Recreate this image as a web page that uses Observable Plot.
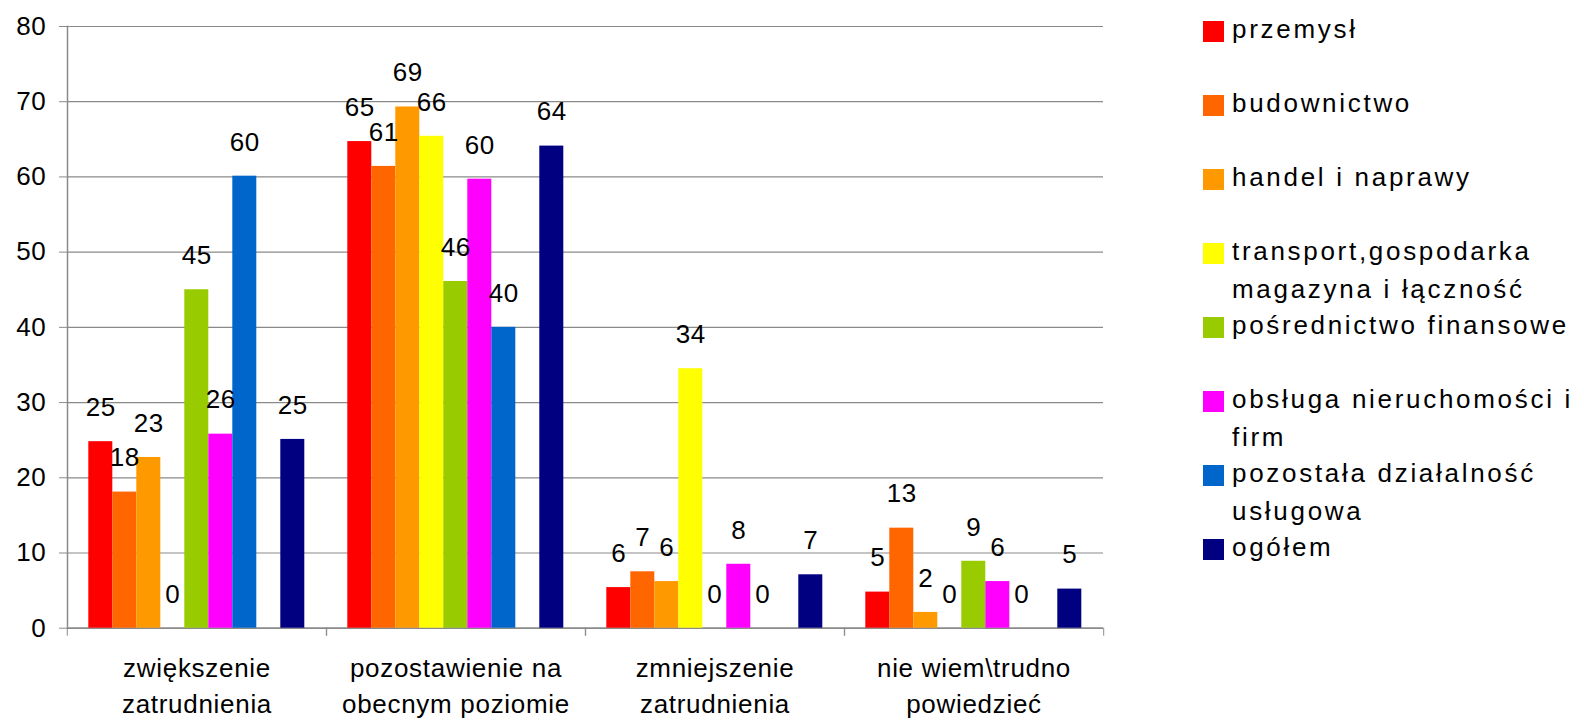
<!DOCTYPE html>
<html>
<head>
<meta charset="utf-8">
<script src="https://cdn.jsdelivr.net/npm/d3@7"></script>
<script src="https://cdn.jsdelivr.net/npm/@observablehq/plot@0.6"></script>
<style>
  html, body { margin: 0; padding: 0; background: #fff; }
  #wrap { position: relative; width: 1584px; height: 720px; overflow: hidden; font-family: "Liberation Sans", Arial, sans-serif; }
  #wrap svg { display: block; }
  #wrap svg text { letter-spacing: 0.7px; }
  .leg-item { position: absolute; left: 1203px; width: 381px; }
  .leg-sw { position: absolute; left: 0; width: 21px; height: 21px; }
  .leg-tx { position: absolute; left: 29px; width: 352px; font-size: 26px; line-height: 37.5px; letter-spacing: 2.7px; color: #000; white-space: normal; }
</style>
</head>
<body>
<div id="wrap"></div>
<script>
// ---- data ----
const categories = [
  "zwiększenie zatrudnienia",
  "pozostawienie na obecnym poziomie",
  "zmniejszenie zatrudnienia",
  "nie wiem\\trudno powiedzieć"
];
const categoryTickLabels = [
  "zwiększenie\nzatrudnienia",
  "pozostawienie na\nobecnym poziomie",
  "zmniejszenie\nzatrudnienia",
  "nie wiem\\trudno\npowiedzieć"
];
const series = [
  "przemysł",
  "budownictwo",
  "handel i naprawy",
  "transport,gospodarka magazyna i łączność",
  "pośrednictwo finansowe",
  "obsługa nieruchomości i firm",
  "pozostała działalność usługowa",
  "ogółem"
];
const colors = ["#FF0000", "#FF6600", "#FF9900", "#FFFF00", "#99CC00", "#FF00FF", "#0066CC", "#000080"];

// values per series (one per category)
const przemysl      = [24.8, 64.7, 5.4, 4.8];
const budownictwo   = [18.1, 61.4, 7.5, 13.3];
const handel        = [22.7, 69.3, 6.2, 2.1];
const transport     = [0, 65.4, 34.5, 0];
const posrednictwo  = [45.0, 46.1, 0, 8.9];
const obsluga       = [25.8, 59.7, 8.5, 6.2];
const pozostala     = [60.1, 40.0, 0, 0];
const ogolem        = [25.1, 64.1, 7.1, 5.2];

// printed value labels
const przemyslLbl     = [25, 65, 6, 5];
const budownictwoLbl  = [18, 61, 7, 13];
const handelLbl       = [23, 69, 6, 2];
const transportLbl    = [0, 66, 34, 0];
const posrednictwoLbl = [45, 46, 0, 9];
const obslugaLbl      = [26, 60, 8, 6];
const pozostalaLbl    = [60, 40, 0, 0];
const ogolemLbl       = [25, 64, 7, 5];

const yTicks = [0, 10, 20, 30, 40, 50, 60, 70, 80];

// ---- build table ----
const valuesBySeries = [przemysl, budownictwo, handel, transport, posrednictwo, obsluga, pozostala, ogolem];
const labelsBySeries = [przemyslLbl, budownictwoLbl, handelLbl, transportLbl, posrednictwoLbl, obslugaLbl, pozostalaLbl, ogolemLbl];
const data = series.flatMap((s, si) => categories.map((c, ci) => ({
  series: s, category: c, value: valuesBySeries[si][ci], label: String(labelsBySeries[si][ci])
})));
// slot order: an empty slot sits before "ogółem"
const slots = [...series.slice(0, 7), " ", series[7]];

// ---- layout ----
const W = 1584, H = 720;
const mL = 66.7, mR = 479.7, mT = 26, mB = 92.3;
const facetW = (W - mL - mR) / categories.length;
const grey = "#8a8a8a";
const font = "Liberation Sans, Arial, sans-serif";

const chart = Plot.plot({
  width: W, height: H,
  marginLeft: mL, marginRight: mR, marginTop: mT, marginBottom: mB,
  style: { fontFamily: font, fontSize: "26px", background: "white", color: "black", overflow: "visible" },
  fx: { domain: categories, padding: 0, label: null },
  x: { domain: slots, paddingInner: 0, paddingOuter: 0.7, axis: null },
  y: { domain: [0, 80], axis: null },
  color: { domain: series, range: colors },
  marks: [
    Plot.gridY(yTicks, { stroke: grey, strokeOpacity: 1, strokeWidth: 1.2 }),
    Plot.frame({ anchor: "left", facetAnchor: "left", stroke: grey, strokeWidth: 1.5 }),
    Plot.ruleY([0], { stroke: grey, strokeWidth: 1.5 }),
    Plot.barY(data, { fx: "category", x: "series", y: "value", fill: "series" }),
    Plot.text(data, { fx: "category", x: "series", y: "value", text: "label", dy: -34, fontSize: 26, fill: "black" }),
    Plot.axisY(yTicks, { tickSize: 8, tickPadding: 13, fontSize: 26, stroke: grey, label: null, tickFormat: d => String(d) }),
    Plot.axisFx({ anchor: "bottom", tickSize: 8, stroke: grey, tickFormat: () => "", label: null, dx: -facetW / 2 }),
    Plot.axisFx({ anchor: "bottom", tickSize: 8, stroke: grey, tickFormat: () => "", label: null, dx: facetW / 2 }),
    Plot.text(categories, { fx: d => d, text: d => categoryTickLabels[categories.indexOf(d)], frameAnchor: "bottom", lineAnchor: "top", dy: 23, lineHeight: 1.38, fontSize: 26, fill: "black" })
  ]
});

const wrap = document.getElementById("wrap");
wrap.appendChild(chart);

// ---- legend ----
series.forEach((s, i) => {
  const item = document.createElement("div");
  item.className = "leg-item";
  item.style.top = (11.3 + 74 * i) + "px";
  const sw = document.createElement("div");
  sw.className = "leg-sw";
  sw.style.background = colors[i];
  sw.style.top = "9.7px";
  const tx = document.createElement("div");
  tx.className = "leg-tx";
  tx.style.top = "0px";
  tx.textContent = s;
  item.appendChild(sw);
  item.appendChild(tx);
  wrap.appendChild(item);
});
</script>
</body>
</html>
